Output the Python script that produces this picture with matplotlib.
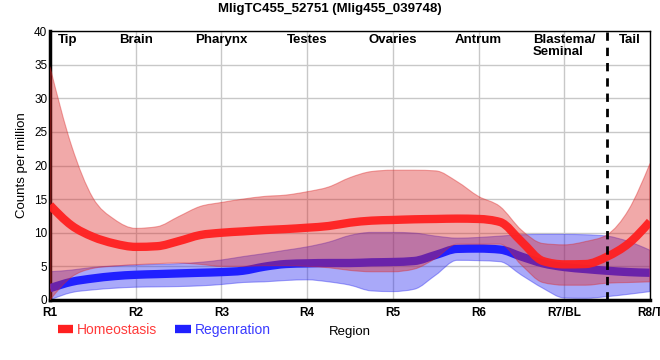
import numpy as np
import matplotlib
matplotlib.use("Agg")
from matplotlib import pyplot as plt
from matplotlib.path import Path
from matplotlib.patches import PathPatch
from matplotlib.lines import Line2D

plt.rcParams['font.family'] = ['Liberation Sans', 'DejaVu Sans']

## Data ##
regions = ['R1', 'R2', 'R3', 'R4', 'R5', 'R6', 'R7/BL', 'R8/T']
# sample positions along the body axis (region index, quarter steps)
pos = [0, 0.25, 0.5, 0.75, 1, 1.25, 1.5, 1.75, 2, 2.25, 2.5, 2.75, 3, 3.25, 3.5,
       3.75, 4, 4.25, 4.5, 4.75, 5, 5.25, 5.5, 5.75, 6, 6.25, 6.5, 6.75, 7]

homeo_mean = [14.1, 11.1, 9.4, 8.4, 7.9, 8.0, 8.75, 9.65, 10.0, 10.2, 10.4, 10.55, 10.75, 11.0, 11.5,
              11.8, 11.9, 12.0, 12.05, 12.1, 12.05, 11.6, 8.7, 5.8, 5.3, 5.35, 6.45, 8.4, 11.65]
homeo_upper = [34.7, 23.0, 15.2, 12.0, 10.65, 10.9, 12.4, 13.9, 14.5, 15.0, 15.4, 15.6, 16.1, 16.8, 18.2,
               19.1, 19.3, 19.3, 19.2, 17.6, 15.4, 13.9, 10.4, 8.4, 8.2, 8.7, 9.7, 13.4, 20.3]
homeo_lower = [0.0, 3.4, 4.7, 5.05, 5.25, 5.4, 5.5, 5.3, 5.0, 5.0, 5.1, 5.1, 5.0, 4.8, 4.4,
               4.2, 4.2, 4.6, 6.2, 8.3, 8.3, 8.3, 5.2, 2.6, 2.2, 2.2, 2.5, 2.6, 2.7]

regen_mean = [1.75, 2.7, 3.2, 3.55, 3.75, 3.85, 3.95, 4.05, 4.15, 4.35, 4.95, 5.35, 5.45, 5.5, 5.5,
              5.6, 5.65, 5.8, 6.7, 7.6, 7.65, 7.5, 6.45, 5.45, 4.9, 4.6, 4.35, 4.15, 4.05]
regen_upper = [4.2, 4.45, 4.85, 5.05, 5.2, 5.3, 5.4, 5.6, 5.95, 6.45, 6.9, 7.4, 7.9, 8.6, 9.6,
               10.05, 10.05, 9.95, 9.5, 9.2, 9.3, 9.5, 9.7, 9.75, 9.75, 9.7, 9.5, 8.7, 7.4]
regen_lower = [0.0, 1.1, 1.5, 1.75, 1.9, 1.95, 2.0, 2.1, 2.3, 2.6, 2.7, 2.9, 3.0, 2.7, 2.2,
               1.35, 1.25, 1.6, 3.7, 5.9, 5.85, 5.7, 3.7, 1.75, 0.3, 0.25, 0.5, 0.85, 1.25]

top_labels = ['Tip', 'Brain', 'Pharynx', 'Testes', 'Ovaries', 'Antrum', 'Blastema/\nSeminal', 'Tail']
top_label_x = [0.21, 1, 2, 3, 4, 5, 6, 6.77]
tail_boundary = 6.5


## monotone-x bezier curves (same as d3.curveMonotoneX) ##
def tangents(x, y):
    x = np.asarray(x, float)
    y = np.asarray(y, float)
    h = np.diff(x)
    s = np.diff(y) / h
    t = np.zeros(len(x))
    for i in range(1, len(x) - 1):
        p = (s[i - 1] * h[i] + s[i] * h[i - 1]) / (h[i - 1] + h[i])
        t[i] = (np.sign(s[i - 1]) + np.sign(s[i])) * min(abs(s[i - 1]), abs(s[i]), 0.5 * abs(p))
    t[0] = (3 * s[0] - t[1]) / 2
    t[-1] = (3 * s[-1] - t[-2]) / 2
    return t


def curve_verts(x, y, reverse=False):
    t = tangents(x, y)
    n = len(x)
    idx = range(n - 1, 0, -1) if reverse else range(n - 1)
    verts = []
    for i in idx:
        j = i - 1 if reverse else i + 1
        dx = (x[j] - x[i]) / 3
        verts += [(x[i] + dx, y[i] + dx * t[i]), (x[j] - dx, y[j] - dx * t[j]), (x[j], y[j])]
    return verts


def line_path(x, y):
    verts = [(x[0], y[0])] + curve_verts(x, y)
    codes = [Path.MOVETO] + [Path.CURVE4] * (len(verts) - 1)
    return Path(verts, codes)


def band_path(x, lo, hi):
    up = curve_verts(x, hi)
    dn = curve_verts(x, lo, reverse=True)
    verts = [(x[0], hi[0])] + up + [(x[-1], lo[-1])] + dn + [(x[0], hi[0])]
    codes = ([Path.MOVETO] + [Path.CURVE4] * len(up) + [Path.LINETO]
             + [Path.CURVE4] * len(dn) + [Path.CLOSEPOLY])
    return Path(verts, codes)


fig = plt.figure(figsize=(6.6, 3.6), dpi=100)
ax = fig.add_axes([50 / 660, 60 / 360, 600 / 660, 269 / 360])

red = '#ff2020'
blue = '#2020ff'

# order matters: blue band, blue line, red band (covers blue line), red line
ax.add_patch(PathPatch(band_path(pos, regen_lower, regen_upper), facecolor='#2828f0',
                       alpha=0.4, edgecolor='#2828f0', lw=0.8, zorder=2))
ax.add_patch(PathPatch(line_path(pos, regen_mean), facecolor='none', edgecolor=blue,
                       lw=6, capstyle='butt', zorder=3))
ax.add_patch(PathPatch(band_path(pos, homeo_lower, homeo_upper), facecolor='#dc2828',
                       alpha=0.4, edgecolor='#dc2828', lw=0.8, zorder=4))
ax.add_patch(PathPatch(line_path(pos, homeo_mean), facecolor='none', edgecolor=red,
                       lw=6, capstyle='butt', alpha=0.95, zorder=5))

ax.axvline(tail_boundary, color='black', lw=2, ls=(0, (3, 2.5)), zorder=6)

for lab, xx in zip(top_labels, top_label_x):
    ax.text(xx, 39.6, lab, ha='center', va='top', fontsize=9.5, fontweight='bold',
            multialignment='left', linespacing=1.05, zorder=7)

ax.set_xlim(0, 7)
ax.set_ylim(0, 40)
ax.set_xticks(range(len(regions)))
ax.set_xticklabels(regions, fontweight='bold', fontsize=9)
ax.set_yticks(range(0, 41, 5))
ax.tick_params(axis='both', length=0, labelsize=8.5)
ax.tick_params(axis='x', pad=5)
ax.tick_params(axis='y', pad=2)
ax.grid(True, color='#c8c8c8', lw=1)
ax.set_axisbelow(True)

for side in ['left', 'bottom']:
    ax.spines[side].set_linewidth(2.5)
for side in ['top', 'right']:
    ax.spines[side].set_linewidth(1)

ax.set_ylabel('Counts per million', fontsize=9.5, labelpad=4)
ax.set_xlabel('Region', fontsize=9.5, labelpad=5)

fig.text(0.5, 1 - 9 / 360, 'MligTC455_52751 (Mlig455_039748)', ha='center', va='center',
         fontsize=9.5, fontweight='bold')

handles = [Line2D([], [], color=red, lw=6, solid_capstyle='butt'),
           Line2D([], [], color=blue, lw=6, solid_capstyle='butt')]
leg = fig.legend(handles, ['Homeostasis', 'Regenration'], loc='center left',
                 bbox_to_anchor=(45 / 660, 1 - 330 / 360), ncol=2, frameon=False,
                 handlelength=1.1, handletextpad=0.3, columnspacing=1.3, fontsize=10)
leg.get_texts()[0].set_color('#ff3b3b')
leg.get_texts()[1].set_color('#3b3bff')

fig.savefig('out.png', dpi=100)
